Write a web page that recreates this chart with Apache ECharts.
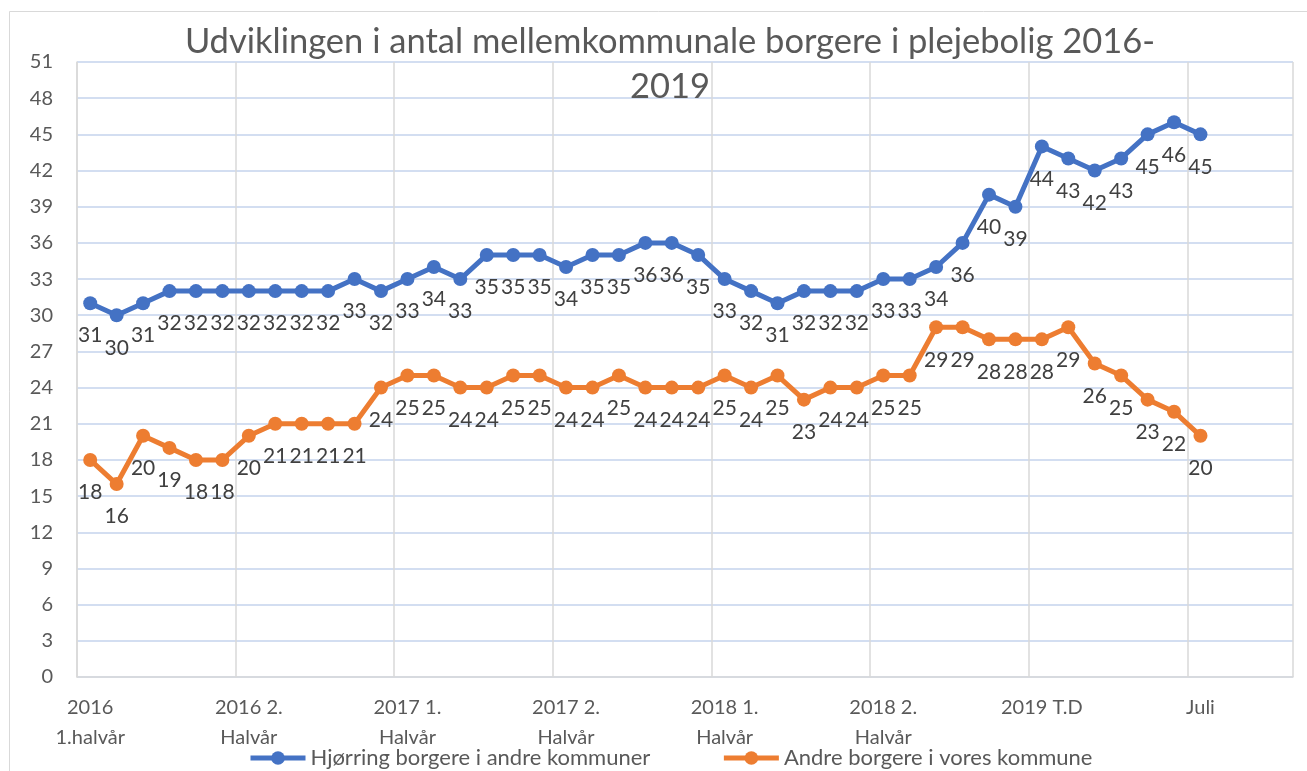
<!DOCTYPE html>
<html>
<head>
<meta charset="utf-8">
<script src="https://cdn.jsdelivr.net/npm/echarts@6/dist/echarts.min.js"></script>
<style>
  html, body { margin: 0; padding: 0; background: #ffffff; }
  #chart { width: 1307px; height: 771px; }
</style>
</head>
<body>
<div id="chart"></div>
<script>
// months jan 2016 .. jul 2019, plus three empty slots Excel left on the right
const months = [];
for (let y = 2016; y <= 2019; y++) {
  for (let m = 1; m <= 12; m++) {
    if (y === 2019 && m > 10) break;
    months.push(y + "-" + (m < 10 ? "0" + m : m));
  }
}

const tickLabels = {
  0: "2016\n1.halvår",
  6: "2016 2.\nHalvår",
  12: "2017 1.\nHalvår",
  18: "2017 2.\nHalvår",
  24: "2018 1.\nHalvår",
  30: "2018 2.\nHalvår",
  36: "2019 T.D",
  42: "Juli"
};

const hjoerring = [31, 30, 31, 32, 32, 32, 32, 32, 32, 32, 33, 32, 33, 34, 33, 35, 35, 35, 34, 35, 35, 36,
  36, 35, 33, 32, 31, 32, 32, 32, 33, 33, 34, 36, 40, 39, 44, 43, 42, 43, 45, 46, 45];
const andre = [18, 16, 20, 19, 18, 18, 20, 21, 21, 21, 21, 24, 25, 25, 24, 24, 25, 25, 24, 24, 25, 24,
  24, 24, 25, 24, 25, 23, 24, 24, 25, 25, 29, 29, 28, 28, 28, 29, 26, 25, 23, 22, 20];

const seriesNames = ["Hjørring borgere i andre kommuner", "Andre borgere i vores kommune"];
const colors = ["#4472C4", "#ED7D31"];

const chart = echarts.init(document.getElementById("chart"));

const makeSeries = (name, data, color) => ({
  name: name,
  type: "line",
  data: data,
  symbol: "circle",
  symbolSize: 14,
  lineStyle: { width: 5, color: color },
  itemStyle: { color: color },
  label: {
    show: true,
    position: "bottom",
    distance: 15,
    color: "#404040",
    fontSize: 21,
    fontFamily: "Lato"
  },
  labelLayout: { hideOverlap: false }
});

chart.setOption({
  animation: false,
  backgroundColor: "#ffffff",
  textStyle: { fontFamily: "Lato" },
  title: {
    text: "Udviklingen i antal mellemkommunale borgere i plejebolig 2016-\n2019",
    left: 665,
    textAlign: "center",
    top: 14,
    textStyle: {
      color: "#595959",
      fontSize: 34.5,
      fontWeight: "normal",
      fontFamily: "Lato",
      lineHeight: 45
    }
  },
  graphic: [{
    type: "rect",
    shape: { x: 9.5, y: 11.5, width: 1320, height: 780 },
    style: { fill: "none", stroke: "#D9D9D9", lineWidth: 1 },
    silent: true
  }],
  legend: {
    top: 742,
    left: 243,
    itemWidth: 55,
    itemHeight: 17,
    itemGap: 71,
    lineStyle: { width: 5 },
    textStyle: { color: "#595959", fontSize: 22, fontFamily: "Lato" },
    data: seriesNames
  },
  grid: { left: 77, right: 14, top: 62, bottom: 94 },
  xAxis: {
    type: "category",
    data: months,
    boundaryGap: true,
    axisLine: { lineStyle: { color: "#D9D9D9", width: 1.5 } },
    axisTick: { show: false, interval: 5 },
    axisLabel: {
      interval: 5,
      color: "#595959",
      fontSize: 20,
      lineHeight: 30,
      margin: 16,
      formatter: (val, idx) => tickLabels[idx] || ""
    },
    splitLine: { show: true, interval: 5, lineStyle: { color: "#D9D9D9", width: 1.5 } }
  },
  yAxis: {
    type: "value",
    min: 0,
    max: 51,
    interval: 3,
    axisLine: { show: true, lineStyle: { color: "#D9D9D9", width: 1.5 } },
    axisTick: { show: false },
    axisLabel: { color: "#595959", fontSize: 20, margin: 24 },
    splitLine: { lineStyle: { color: "#C5D3EC", width: 1.5 } }
  },
  series: [
    makeSeries(seriesNames[0], hjoerring, colors[0]),
    makeSeries(seriesNames[1], andre, colors[1])
  ]
});
</script>
</body>
</html>
